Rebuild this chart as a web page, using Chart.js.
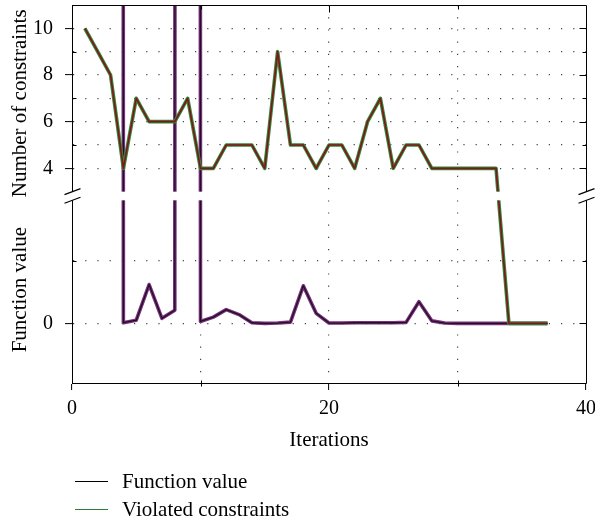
<!DOCTYPE html>
<html><head><meta charset="utf-8">
<script src="https://cdn.jsdelivr.net/npm/chart.js@4.4.0/dist/chart.umd.min.js"></script>
<style>
html,body{margin:0;padding:0;background:#fff;}
#wrap{position:relative;width:595px;height:524px;overflow:hidden;}
#c{position:absolute;left:0;top:0;}
.leg{position:absolute;left:75px;height:24px;font:21px "Liberation Serif",serif;color:#000;display:flex;align-items:center;white-space:nowrap;}
.leg .l{display:inline-block;width:33px;height:0;margin-right:14px;}
</style></head><body>
<div id="wrap"><canvas id="c" width="595" height="524"></canvas>
<div class="leg" id="leg0" style="top:469px"><span class="l"></span><span class="t"></span></div>
<div class="leg" id="leg1" style="top:497px"><span class="l"></span><span class="t"></span></div>
</div>
<script>
// ---- data ----
const iterations = [1,2,3,4,5,6,7,8,9,10,11,12,13,14,15,16,17,18,19,20,21,22,23,24,25,26,27,28,29,30,31,32,33,34,35,36,37];
const violatedConstraints = [10,9,8,4,7,6,6,6,7,4,4,5,5,5,4,9,5,5,4,5,5,4,6,7,4,5,5,4,4,4,4,4,4,0,0,0,0];
// function value in units of the unlabeled grid step of the lower panel (very large = off the chart)
const functionValue = [1000,1000,1000,0.01,0.05,0.62,0.08,0.21,1000,0.03,0.10,0.22,0.14,0.01,0,0.005,0.02,0.60,0.16,0.005,0.005,0.01,0.01,0.01,0.01,0.015,0.345,0.04,0.005,0,0,0,0,0,0,0,0];
const xTickValues = [0,10,20,30,40];
const xTickLabels = ['0','','20','','40'];
const constraintTickValues = [4,5,6,7,8,9,10];
const constraintTickLabels = ['4','','6','','8','','10'];
const functionTickValues = [0,1];
const functionTickLabels = ['0',''];
const seriesNames = ['Function value','Violated constraints'];
const axisTitles = {x:'Iterations', top:'Number of constraints', bottom:'Function value'};

// ---- broken axis mapping (display units) ----
const FN_ZERO = -2.644, FN_UNIT = 2.684;      // lower panel
const BREAK_LOW = 2.63, BREAK_HIGH = 3.0;     // hidden band
const fnToDisplay = f => FN_ZERO + f * FN_UNIT;
const consToDisplay = c => c >= 3 ? c : FN_ZERO + c * FN_UNIT;

const yTickDefs = constraintTickValues.map((v,i)=>({value:v,label:constraintTickLabels[i]}))
  .concat(functionTickValues.map((v,i)=>({value:fnToDisplay(v),label:functionTickLabels[i]})))
  .sort((a,b)=>a.value-b.value);
const yLabelFor = v => { const d = yTickDefs.find(t=>Math.abs(t.value-v)<1e-6); return d ? d.label : ''; };
const xLabelFor = v => { const i = xTickValues.indexOf(v); return i>=0 ? xTickLabels[i] : ''; };

const fnPoints = iterations.map((x,i)=>({x, y: fnToDisplay(functionValue[i])}));
const csPoints = iterations.map((x,i)=>({x, y: consToDisplay(violatedConstraints[i])}));

const FONT = '"Liberation Serif", serif';
const C_FN_OUT = '#74357a', C_FN_IN = '#2a0a2a', C_CS_OUT = '#2f8a40', C_CS_IN = '#861414';

// legend (HTML)
['#000','#2e7d3a'].forEach((c,i)=>{
  const el = document.getElementById('leg'+i);
  el.querySelector('.l').style.borderTop = '1.5px solid ' + c;
  el.querySelector('.t').textContent = seriesNames[i];
});

const brokenAxis = {
  id:'brokenAxis',
  afterDatasetsDraw(chart){
    const {ctx, chartArea:{left,right,top,bottom}, scales:{x,y}} = chart;
    const L = Math.round(left)+0.5, R = Math.round(right)+0.5, T = Math.round(top)+0.5, B = Math.round(bottom)+0.5;
    ctx.save();
    ctx.strokeStyle = '#000'; ctx.lineWidth = 1; ctx.setLineDash([]);
    ctx.beginPath();
    ctx.moveTo(L,B); ctx.lineTo(L,T); ctx.lineTo(R,T); ctx.lineTo(R,B); ctx.lineTo(L,B);
    yTickDefs.forEach(t=>{
      const py = Math.round(y.getPixelForValue(t.value))+0.5;
      const len = t.label ? 7 : 4;
      if (!t.label){ ctx.moveTo(L,py); ctx.lineTo(L+4,py); }
      ctx.moveTo(R,py); ctx.lineTo(R-len,py);
    });
    xTickValues.forEach((v,i)=>{
      if (v===0 || v===40) return;
      const px = Math.round(x.getPixelForValue(v))+0.5;
      const len = xTickLabels[i] ? 7 : 4;
      ctx.moveTo(px,T); ctx.lineTo(px,T+len);
      if (!xTickLabels[i]){ ctx.moveTo(px,B-3); ctx.lineTo(px,B+3); }
    });
    ctx.stroke();
    const yHi = y.getPixelForValue(BREAK_HIGH), yLo = y.getPixelForValue(BREAK_LOW);
    ctx.fillStyle = '#fff';
    ctx.fillRect(left-2, yHi, right-left+4, yLo-yHi);
    ctx.beginPath();
    [L,R].forEach(xc=>{
      [yHi, yLo].forEach(yc=>{ ctx.moveTo(xc-8, yc+3); ctx.lineTo(xc+8, yc-3); });
    });
    ctx.lineWidth = 1.2; ctx.stroke();
    ctx.fillStyle = '#000';
    ctx.font = '21px ' + FONT;
    ctx.textAlign = 'center'; ctx.textBaseline = 'middle';
    const drawV = (txt, cx, cy) => { ctx.save(); ctx.translate(cx, cy); ctx.rotate(-Math.PI/2); ctx.fillText(txt, 0, 0); ctx.restore(); };
    drawV(axisTitles.top, 20, (top + yHi)/2 + 5);
    drawV(axisTitles.bottom, 20, (yLo + bottom)/2 - 2);
    ctx.restore();
  }
};

const line = (data, color, width) => ({data, borderColor:color, backgroundColor:color, borderWidth:width,
  pointRadius:0, pointHoverRadius:0, tension:0, fill:false, clip:0, borderJoinStyle:'round', borderCapStyle:'butt'});

new Chart(document.getElementById('c'), {
  type:'line',
  data:{ datasets:[
    line(csPoints, C_CS_IN, 1.6),
    line(csPoints, C_CS_OUT, 3.6),
    line(fnPoints, C_FN_IN, 1.3),
    line(fnPoints, C_FN_OUT, 3.6)
  ]},
  options:{
    responsive:false, animation:false, events:[],
    layout:{padding:{top:5, right:9, left:0, bottom:0}},
    plugins:{legend:{display:false}, tooltip:{enabled:false}},
    scales:{
      x:{ type:'linear', min:0, max:40,
        afterBuildTicks: s => { s.ticks = xTickValues.map(v=>({value:v})); },
        afterFit: s => { s.height = 141; s.paddingLeft = 0; s.paddingRight = 0; },
        ticks:{ callback: v => xLabelFor(v), font:{family:FONT, size:20}, color:'#000', padding:7, maxRotation:0, autoSkip:false },
        grid:{ color: c => (c.tick && (c.tick.value===0 || c.tick.value===40)) ? 'rgba(0,0,0,0)' : '#444',
          lineWidth:1.2, tickLength:7, tickWidth:1, tickBorderDash:[],
          tickColor: c => (c.tick && xLabelFor(c.tick.value)) ? '#000' : 'rgba(0,0,0,0)' },
        border:{display:true, color:'#000', width:1, dash:[1.2,11]},
        title:{display:true, text:axisTitles.x, font:{family:FONT, size:21}, color:'#000', padding:{top:0, bottom:71}}
      },
      y:{ type:'linear', min:-5.2, max:11,
        afterBuildTicks: s => { s.ticks = yTickDefs.map(t=>({value:t.value})); },
        afterFit: s => { s.width = 72; s.paddingTop = 0; s.paddingBottom = 0; },
        ticks:{ callback: v => yLabelFor(v), font:{family:FONT, size:20}, color:'#000', padding:12, autoSkip:false },
        grid:{ color:'#444', lineWidth:1.2, tickLength:7, tickWidth:1, tickBorderDash:[],
          tickColor: c => (c.tick && yLabelFor(c.tick.value)) ? '#000' : 'rgba(0,0,0,0)' },
        border:{display:true, color:'#000', width:1, dash:[1.2,11]}
      }
    }
  },
  plugins:[brokenAxis]
});
</script>
</body></html>
